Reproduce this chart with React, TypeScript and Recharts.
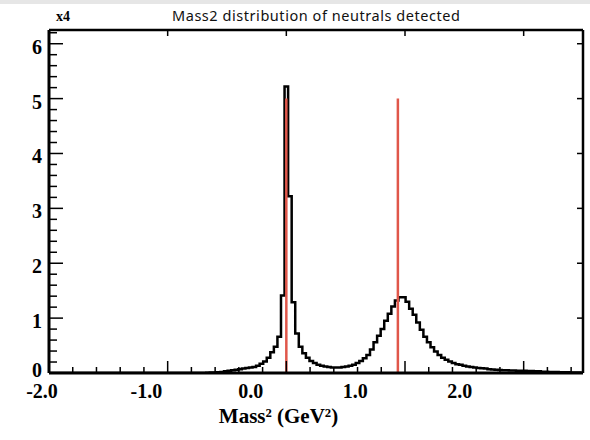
import React from 'react'
import { LineChart, Line, XAxis, YAxis, ReferenceLine } from 'recharts'

// histogram: bins of 0.03 GeV^2, first bin centred at -0.69
const firstBin = -0.69
const binWidth = 0.03
const counts = [
  0, 0.005, 0.01, 0.01, 0.015, 0.02, 0.03, 0.04, 0.05, 0.06,
  0.07, 0.08, 0.09, 0.1, 0.11, 0.13, 0.17, 0.21, 0.28, 0.38,
  0.48, 0.66, 1.41, 5.22, 3.22, 1.29, 0.72, 0.48, 0.36, 0.28,
  0.22, 0.18, 0.15, 0.13, 0.12, 0.11, 0.1, 0.1, 0.1, 0.11,
  0.12, 0.13, 0.15, 0.18, 0.22, 0.27, 0.33, 0.43, 0.56, 0.68,
  0.8, 0.95, 1.08, 1.21, 1.32, 1.38, 1.38, 1.3, 1.17, 1.06,
  0.92, 0.79, 0.66, 0.56, 0.47, 0.39, 0.33, 0.28, 0.24, 0.21,
  0.18, 0.16, 0.15, 0.13, 0.12, 0.11, 0.1, 0.09, 0.085, 0.08,
  0.07, 0.065, 0.06, 0.055, 0.05, 0.05, 0.045, 0.045, 0.04, 0.04,
  0.04, 0.035, 0.035, 0.03, 0.03, 0.025, 0.025, 0.02, 0.02, 0.02,
  0.015, 0.015, 0.015, 0.01, 0.01, 0.01, 0.01,
]

// expected masses (red markers)
const markers = [0.0, 0.94]
const markerHeight = 5.0

const xTicks = [
  -2, -1.8, -1.6, -1.4, -1.2, -1, -0.8, -0.6, -0.4, -0.2, 0, 0.2,
  0.4, 0.6, 0.8, 1, 1.2, 1.4, 1.6, 1.8, 2, 2.2, 2.4,
]
const yTicks = [
  0, 0.2, 0.4, 0.6, 0.8, 1, 1.2, 1.4, 1.6, 1.8, 2, 2.2, 2.4, 2.6, 2.8, 3,
  3.2, 3.4, 3.6, 3.8, 4, 4.2, 4.4, 4.6, 4.8, 5, 5.2, 5.4, 5.6, 5.8, 6, 6.2,
]

const title = 'Mass2 distribution of neutrals detected'
const xTitle = 'Mass² (GeV²)'
const yScaleLabel = 'x4'

const histData = [{ x: -2, n: 0 }].concat(
  counts.map((n, i) => ({ x: firstBin + i * binWidth, n }))
)

const W = 590
const H = 440
const LEFT = 49
const RIGHT = 583
const TOP = 30
const BOTTOM = 373
const serif = '"Liberation Serif", "Times New Roman", serif'

const isMajor = (v: number) => Math.abs(v - Math.round(v)) < 1e-6

const XTick = (props: any) => {
  const { x, payload } = props
  const v = payload.value
  const major = isMajor(v)
  // labels sit slightly compressed relative to the ticks, like in the original
  const lx = 42 + (x - LEFT) * 0.88
  return (
    <g>
      <line x1={x} x2={x} y1={BOTTOM} y2={BOTTOM - (major ? 12 : 6)} stroke="#000" strokeWidth={1.5} />
      {major && (
        <>
          <line x1={x} x2={x} y1={TOP} y2={TOP + 6} stroke="#000" strokeWidth={1.5} />
          <text x={lx} y={398} textAnchor="middle"
            fontFamily={serif} fontWeight="bold" fontSize={20} fill="#000">
            {v.toFixed(1)}
          </text>
        </>
      )}
    </g>
  )
}

const YTick = (props: any) => {
  const { y, payload } = props
  const v = payload.value
  const major = isMajor(v)
  // the zero label is nudged up so it clears the x labels
  const ly = v === 0 ? y + 4 : y + 10
  return (
    <g>
      <line x1={LEFT} x2={LEFT + (major ? 14 : 8)} y1={y} y2={y} stroke="#000" strokeWidth={1.5} />
      {major && (
        <>
          <line x1={RIGHT} x2={RIGHT - 6} y1={y} y2={y} stroke="#000" strokeWidth={1.5} />
          <text x={42} y={ly} textAnchor="end"
            fontFamily={serif} fontWeight="bold" fontSize={20} fill="#000">
            {Math.round(v)}
          </text>
        </>
      )}
    </g>
  )
}

export default function App() {
  return (
    <div style={{ position: 'absolute', left: 0, top: 0, width: W, height: H, background: '#fff' }}>
      <div style={{ position: 'absolute', left: 0, top: 0, width: W, height: 4, background: '#e6e6e6' }} />
      <LineChart width={W} height={H} data={histData}
        margin={{ top: TOP, right: W - RIGHT, bottom: 0, left: 0 }}>
        <XAxis dataKey="x" type="number" domain={[-2, 2.5]} allowDataOverflow
          ticks={xTicks} interval={0} height={H - BOTTOM}
          tickLine={false} tick={(p: any) => <XTick {...p} />}
          axisLine={{ stroke: '#000', strokeWidth: 3 }} />
        <YAxis type="number" domain={[0, 6.25]} allowDataOverflow
          ticks={yTicks} interval={0} width={LEFT}
          tickLine={false} tick={(p: any) => <YTick {...p} />}
          axisLine={{ stroke: '#000', strokeWidth: 3 }} />
        <Line dataKey="n" type="step" stroke="#000" strokeWidth={2.5}
          dot={false} activeDot={false} isAnimationActive={false} />
        {markers.map((m) => (
          <ReferenceLine key={m} segment={[{ x: m, y: 0 }, { x: m, y: markerHeight }]}
            stroke="#e0574a" strokeWidth={2.5} />
        ))}
        <ReferenceLine y={6.25} stroke="#000" strokeWidth={2.5} />
        <ReferenceLine x={2.5} stroke="#000" strokeWidth={2.5} />
      </LineChart>
      <svg width={W} height={H} style={{ position: 'absolute', left: 0, top: 0, pointerEvents: 'none' }}>
        <text x={56} y={20.5} fontFamily={serif} fontWeight="bold" fontSize={14} fill="#000">
          {yScaleLabel}
        </text>
        <text x={172} y={20.5} textLength={288} lengthAdjust="spacing"
          fontFamily='"Noto Sans", sans-serif' fontSize={14.5} fill="#111">
          {title}
        </text>
        <text x={278.5} y={423} textAnchor="middle" fontFamily={serif} fontWeight="bold"
          fontSize={21} fill="#000">
          {xTitle}
        </text>
      </svg>
    </div>
  )
}
